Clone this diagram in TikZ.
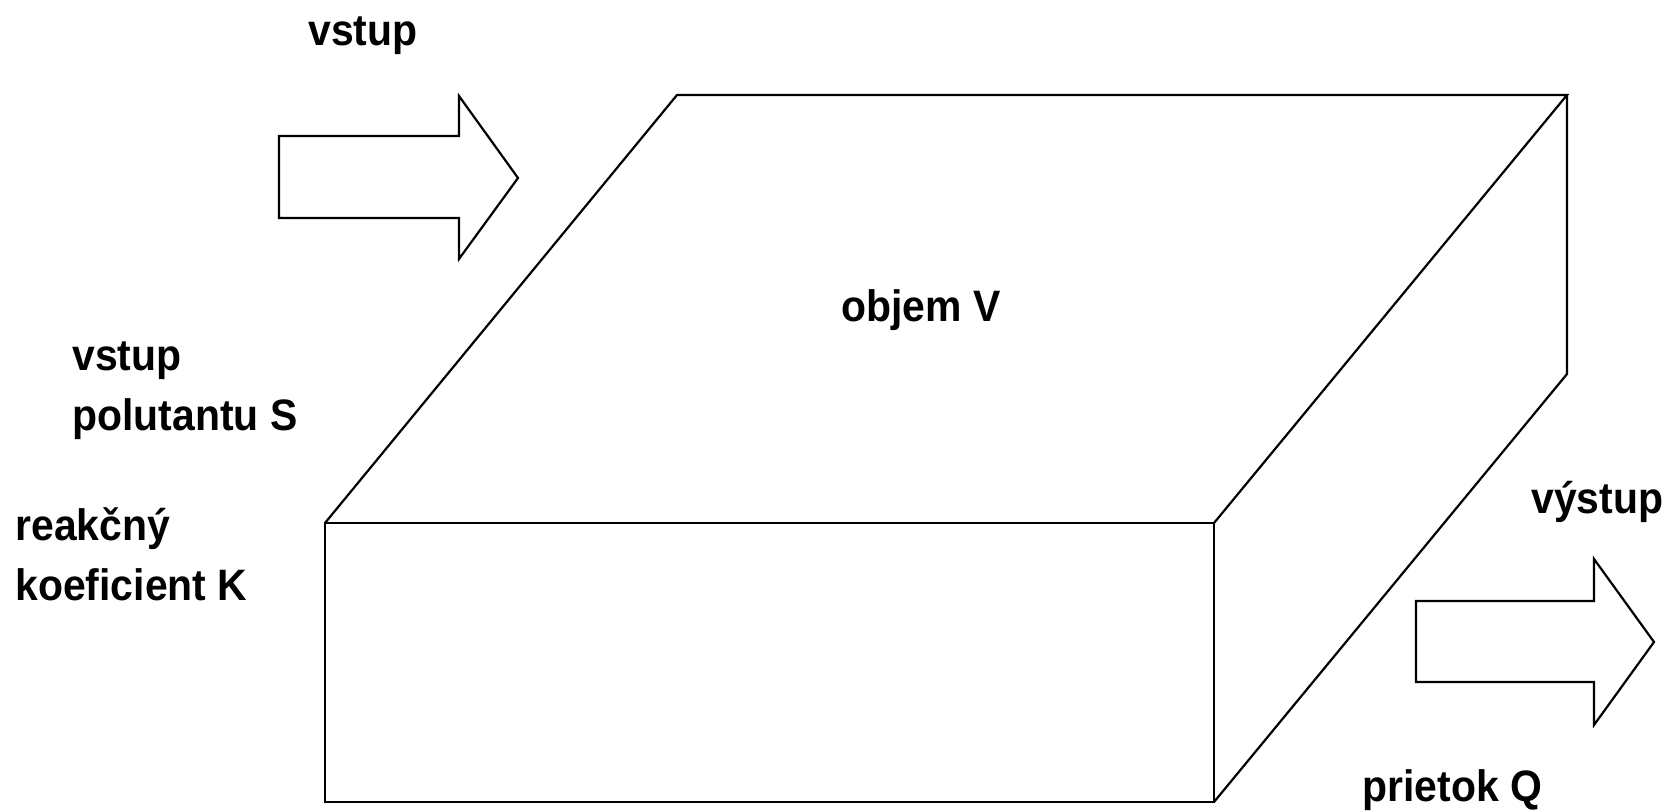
\documentclass[tikz,border=0pt]{standalone}
\usepackage{fontspec}
\setmainfont{Liberation Sans}[FakeStretch=0.93]
\begin{document}
\begin{tikzpicture}[x=0.5pt,y=-0.5pt,
  edge/.style={draw=black,line width=1.1pt,line join=miter},
  label/.style={inner sep=0pt,anchor=base west,align=left,
    font=\fontsize{22pt}{30pt}\selectfont\bfseries}]
\useasboundingbox (0,0) rectangle (1664,812);

% block arrows: inflow and outflow
\draw[edge] (279,136) -- (459,136) -- (459,96) -- (518,178) -- (459,259)
  -- (459,218) -- (279,218) -- cycle;
\draw[edge] (1416,601) -- (1594,601) -- (1594,559) -- (1654,642) -- (1594,725)
  -- (1594,682) -- (1416,682) -- cycle;

% the reactor volume as a box
\coordinate (ftl) at (325,523);
\coordinate (ftr) at (1214,523);
\coordinate (fbr) at (1214,802);
\coordinate (fbl) at (325,802);
\coordinate (btl) at (677,95);
\coordinate (btr) at (1567,95);
\coordinate (bbr) at (1567,374);
\draw[edge] (ftl) rectangle (fbr);
\draw[edge] (ftl) -- (btl) -- (btr) -- (ftr);
\draw[edge] (btr) -- (bbr) -- (fbr);

% labels (multi-line labels are placed by their last baseline)
\node[label] (in) at (308,46) {vstup};
\node[label] (vol) at (841,322) {objem V};
\node[label] (pol) at (72,430) {vstup\\polutantu S};
\node[label] (react) at (15,600) {reakčný\\koeficient K};
\node[label] (out) at (1531,513) {výstup};
\node[label] (flow) at (1362,801) {prietok Q};
\end{tikzpicture}
\end{document}
